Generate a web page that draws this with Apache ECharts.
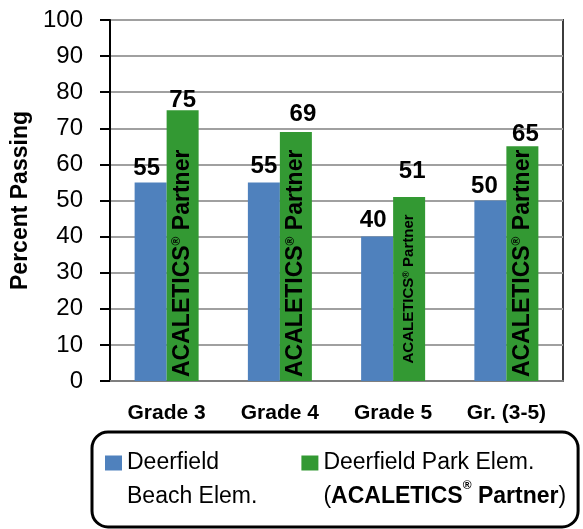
<!DOCTYPE html>
<html>
<head>
<meta charset="utf-8">
<script src="https://cdn.jsdelivr.net/npm/echarts@6/dist/echarts.min.js"></script>
<style>
  html, body { margin: 0; padding: 0; background: #fff; }
  #chart { width: 583px; height: 529px; }
</style>
</head>
<body>
<div id="chart"></div>
<script>
const categories = ['Grade 3', 'Grade 4', 'Grade 5', 'Gr. (3-5)']
const beachValues = [55, 55, 40, 50]
const parkValues = [75, 69, 51, 65]
const yTicks = [0, 10, 20, 30, 40, 50, 60, 70, 80, 90, 100]

const beachName = 'Deerfield Beach Elem.'
const parkName = 'Deerfield Park Elem. (ACALETICS® Partner)'

// value labels were hand-placed in the original: [dx, lift] per bar
const beachNudge = [[-4, 2], [0, 4], [-4, 4], [-6, 2]]
const parkNudge = [[0, -2], [7, 6], [3, 14], [3, 0]]

const FONT = '"Liberation Sans", Arial, sans-serif'
const BLUE = '#4f81bd'
const GREEN = '#339933'

function withNudge(values, nudge) {
  return values.map((v, i) => ({
    value: v,
    label: { offset: [nudge[i][0], -nudge[i][1]] }
  }))
}

// small grade-5 bar gets a shrunk, centered label
const partnerLabel = parkValues.map(v => {
  if (v < 60) {
    return {
      value: v,
      label: {
        position: 'inside', align: 'center', distance: 0,
        rich: {
          b: { fontSize: 15, fontWeight: 'bold', color: '#000', fontFamily: FONT },
          r: { fontSize: 9, fontWeight: 'bold', color: '#000', fontFamily: FONT, verticalAlign: 'top', lineHeight: 12 }
        }
      }
    }
  }
  return v
})

const chart = echarts.init(document.getElementById('chart'))

chart.setOption({
  backgroundColor: '#fff',
  animation: false,
  textStyle: { fontFamily: FONT },
  grid: {
    left: 110, right: 20, top: 20, bottom: 148,
    show: true, borderColor: '#3c3c3c', borderWidth: 2
  },
  legend: {
    data: [beachName, parkName],
    left: 92, top: 432,
    padding: [14, 12, 13, 13],
    itemGap: 44,
    itemWidth: 17, itemHeight: 49,
    icon: 'path://M0 0H17V15H0Z M0 49',
    borderColor: '#000', borderWidth: 3, borderRadius: 16,
    textStyle: {
      fontSize: 23, lineHeight: 34, color: '#000', fontFamily: FONT,
      rich: {
        n: { fontSize: 23, lineHeight: 34, color: '#000', fontFamily: FONT },
        b: { fontSize: 23, lineHeight: 34, fontWeight: 'bold', color: '#000', fontFamily: FONT },
        r: { fontSize: 12, lineHeight: 22, fontWeight: 'bold', color: '#000', fontFamily: FONT, verticalAlign: 'top' }
      }
    },
    formatter: name => {
      if (name === beachName) return '{n|Deerfield}\n{n|Beach Elem.}'
      return '{n|Deerfield Park Elem.}\n{n|(}{b|ACALETICS}{r|®}{b| Partner}{n|)}'
    },
    selectedMode: false
  },
  xAxis: [{
    type: 'category',
    data: categories,
    axisLine: { lineStyle: { color: '#7f7f7f', width: 2 } },
    axisTick: { show: false },
    axisLabel: { fontSize: 21, fontWeight: 'bold', color: '#000', margin: 22 }
  }, {
    type: 'category',
    data: categories,
    show: false
  }],
  yAxis: {
    type: 'value',
    min: 0, max: 100, interval: 10,
    name: 'Percent Passing',
    nameLocation: 'middle',
    nameGap: 74,
    nameTextStyle: { fontSize: 23, fontWeight: 'bold', color: '#000' },
    axisLine: { show: true, lineStyle: { color: '#000', width: 2 } },
    axisTick: { show: true, length: 10, lineStyle: { color: '#000', width: 2 } },
    axisLabel: {
      fontSize: 24, color: '#000', margin: 27,
      formatter: v => yTicks.includes(v) ? String(v) : ''
    },
    splitLine: { lineStyle: { color: '#a0a0a0', width: 2 } }
  },
  series: [{
    name: beachName,
    type: 'bar',
    data: withNudge(beachValues, beachNudge),
    barWidth: 32,
    barGap: '0%',
    itemStyle: { color: BLUE },
    label: {
      show: true, position: 'top', distance: 0,
      fontSize: 24, fontWeight: 'bold', color: '#000'
    }
  }, {
    name: parkName,
    type: 'bar',
    data: withNudge(parkValues, parkNudge),
    barWidth: 32,
    barGap: '0%',
    itemStyle: { color: GREEN },
    label: {
      show: true, position: 'top', distance: 0,
      fontSize: 24, fontWeight: 'bold', color: '#000'
    }
  }, {
    // placeholder so the overlay lines up with the green bars
    name: 'spacer',
    type: 'bar',
    xAxisIndex: 1,
    data: beachValues,
    barWidth: 32,
    barGap: '0%',
    silent: true,
    itemStyle: { color: 'rgba(0,0,0,0)' }
  }, {
    name: 'partner',
    type: 'bar',
    xAxisIndex: 1,
    data: partnerLabel,
    barWidth: 32,
    barGap: '0%',
    silent: true,
    z: 5,
    itemStyle: { color: 'rgba(0,0,0,0)' },
    label: {
      show: true,
      position: 'insideBottom',
      distance: 4,
      rotate: 90,
      align: 'left',
      verticalAlign: 'middle',
      formatter: '{b|ACALETICS}{r|®}{b| Partner}',
      rich: {
        b: { fontSize: 23, fontWeight: 'bold', color: '#000', fontFamily: FONT },
        r: { fontSize: 12, fontWeight: 'bold', color: '#000', fontFamily: FONT, verticalAlign: 'top', lineHeight: 16 }
      }
    }
  }]
})
</script>
</body>
</html>
